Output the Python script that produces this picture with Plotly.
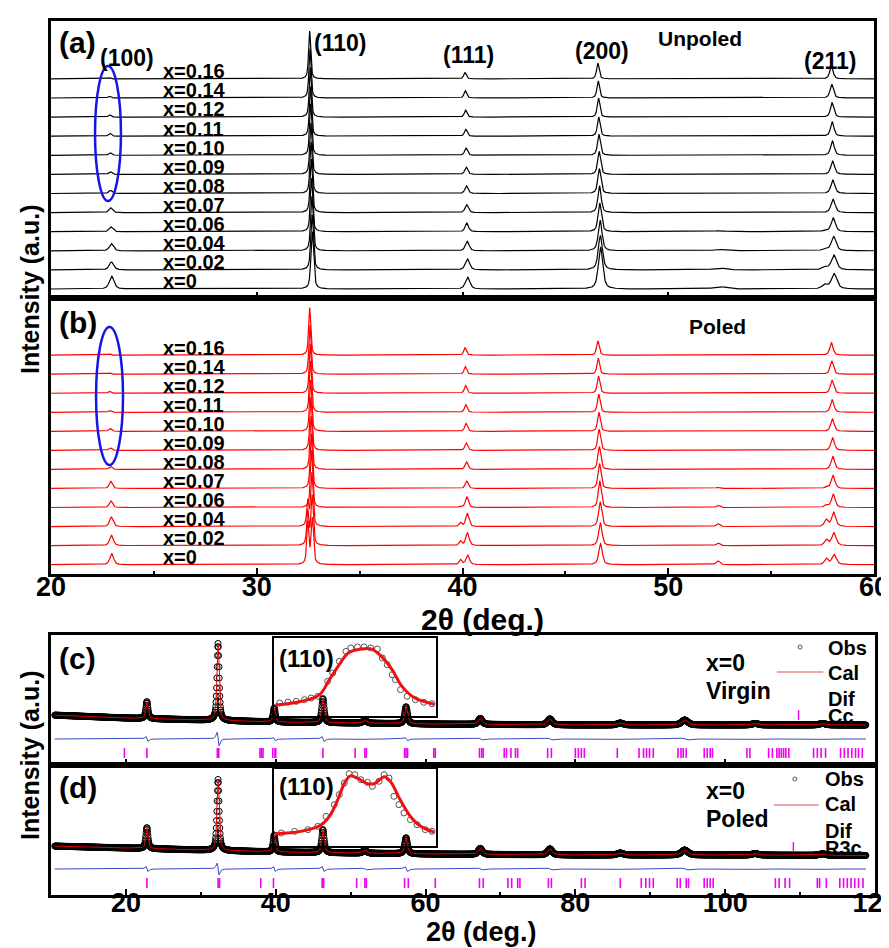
import numpy as np
import plotly.graph_objects as go

# ---------------- DATA ----------------
comps = ["0", "0.02", "0.04", "0.06", "0.07", "0.08", "0.09", "0.10", "0.11", "0.12", "0.14", "0.16"]

# top panels: reflections (positions for x=0.16) and shift toward x=0
hkl = ["(100)", "(110)", "(111)", "(200)", "(211)"]
hkl_pos = [22.82, 32.57, 40.12, 46.58, 57.93]
hkl_fwhm = [0.16, 0.12, 0.15, 0.15, 0.19]
pos_shift = [0.13, 0.12, 0.11, 0.09, 0.08, 0.07, 0.06, 0.05, 0.04, 0.03, 0.015, 0.0]
width_scale = [1.7, 1.6, 1.45, 1.3, 1.25, 1.2, 1.15, 1.1, 1.05, 1.0, 1.0, 1.0]

# unpoled peak heights (units of curve spacing), index = composition
un_h100 = [0.67, 0.42, 0.38, 0.25, 0.25, 0.16, 0.14, 0.14, 0.16, 0.12, 0.10, 0.07]
un_h110 = [3.0, 2.9, 2.85, 2.8, 2.8, 2.7, 2.7, 2.7, 2.6, 2.6, 2.6, 2.5]
un_h111 = [0.62, 0.58, 0.5, 0.45, 0.42, 0.4, 0.38, 0.38, 0.36, 0.36, 0.38, 0.33]
un_h200 = [2.2, 1.8, 1.6, 1.5, 1.4, 1.3, 1.2, 1.1, 1.0, 1.0, 0.9, 0.82]
un_h211 = [0.8, 0.78, 0.75, 0.72, 0.7, 0.7, 0.7, 0.75, 0.75, 0.75, 0.72, 0.68]
un_hump_pos = 52.5
un_hump_h = [0.12, 0.1, 0.07, 0.05, 0, 0, 0, 0, 0, 0, 0, 0]
un_sh211_pos = 57.6
un_sh211_h = [0.22, 0.14, 0.08, 0.04, 0, 0, 0, 0, 0, 0, 0, 0]

# poled peak heights
po_h100 = [0.58, 0.54, 0.5, 0.35, 0.38, 0.16, 0.14, 0.16, 0.10, 0.10, 0.07, 0.07]
po_h110 = [2.4, 2.6, 2.8, 3.0, 2.9, 2.8, 2.8, 2.7, 2.7, 2.6, 2.6, 2.5]
po_h111 = [0.5, 0.67, 0.68, 0.56, 0.39, 0.4, 0.4, 0.42, 0.4, 0.4, 0.4, 0.39]
po_h200 = [1.1, 1.2, 1.3, 1.4, 1.3, 1.2, 1.1, 1.0, 0.95, 0.9, 0.85, 0.75]
po_h211 = [0.53, 0.67, 0.74, 0.7, 0.68, 0.68, 0.66, 0.66, 0.66, 0.68, 0.7, 0.65]
# poled split / extra reflections
po_extra_pos = [32.48, 39.9, 52.42, 57.68]
po_ex110 = [2.2, 1.8, 1.3, 0, 0, 0, 0, 0, 0, 0, 0, 0]
po_ex111 = [0.26, 0.23, 0.2, 0.05, 0, 0, 0, 0, 0, 0, 0, 0]
po_ex524 = [0.2, 0.14, 0.16, 0.12, 0.06, 0, 0, 0, 0, 0, 0, 0]
po_ex576 = [0.32, 0.31, 0.35, 0.12, 0.06, 0, 0, 0, 0, 0, 0, 0]

# bottom panels (Rietveld, x=0)
rv_pos = [22.8, 32.3, 39.8, 46.3, 51.9, 57.4, 67.3, 76.6, 86.0, 94.6, 104.0, 113.0]
rv_fwhm = [0.35, 0.35, 0.35, 0.4, 0.6, 0.45, 0.6, 0.7, 0.9, 1.0, 1.0, 1.0]
virgin_h = [17, 77, 14, 24, 3, 17, 6, 6, 2, 5, 1.5, 1.5]
poled_h = [21, 71, 17, 23, 3, 16, 6, 6, 2, 5, 1.5, 1.5]
bg_x = [10, 20, 30, 40, 60, 80, 100, 120]
virgin_bg = [50, 47, 45, 43, 41, 40, 40, 40]
poled_bg = [49, 47, 45, 43, 41, 40, 40, 39.5]
virgin_dif = [3, 8, 2, 3, 0.5, 2, 1, 1, 0.5, 1, 0.5, 0.5]
poled_dif = [3, 7, 3, 3, 1, 3, 1, 1, 0.5, 1, 0.5, 0.5]
dif_level = 26
tick_level = 12

cc_ticks = [19.8, 22.8, 32.2, 32.4, 37.9, 38.1, 38.3, 39.6, 39.9, 40.0, 46.3, 50.6, 51.9, 52.1,
            57.2, 57.4, 57.6, 61.1, 61.3, 67.2, 67.5, 67.7, 70.5, 70.8, 71.4, 72.0, 72.3, 76.3, 76.8,
            80.0, 80.4, 80.8, 81.2, 85.6, 88.5, 89.1, 89.5, 89.9, 90.4, 93.7, 94.1, 94.4, 94.8,
            97.2, 97.6, 98.0, 98.3, 102.9, 103.3, 105.8, 106.3, 106.9, 107.2, 107.5, 107.8, 108.1,
            108.5, 111.8, 112.3, 112.8, 113.4, 115.4, 115.9, 116.4, 116.9, 117.4, 117.8, 118.3]
r3c_ticks = [22.8, 32.3, 32.5, 38.0, 39.7, 46.2, 46.4, 50.8, 51.9, 52.1, 57.2, 57.7, 61.3, 67.2,
             67.7, 71.0, 71.5, 72.3, 72.6, 76.4, 76.8, 80.8, 81.3, 86.0, 88.8, 89.4, 89.9, 90.4,
             93.6, 94.0, 94.8, 95.1, 97.2, 97.6, 98.0, 98.4, 106.7, 107.2, 108.0, 108.6, 112.3,
             112.6, 113.5, 115.3, 115.8, 116.3, 116.8, 117.3, 117.8, 118.4]

# insets: (110) profile
inset_c_x = [31.81, 31.97, 32.08, 32.14, 32.20, 32.26, 32.34, 32.40, 32.46, 32.53, 32.59, 32.67, 32.79]
inset_c_cal = [0.14, 0.19, 0.27, 0.46, 0.65, 0.81, 0.86, 0.86, 0.77, 0.59, 0.38, 0.23, 0.15]
inset_c_obs_x = [31.835, 31.886, 31.937, 31.988, 32.029, 32.07, 32.131, 32.162, 32.203, 32.244, 32.274,
                 32.315, 32.356, 32.397, 32.438, 32.469, 32.499, 32.53, 32.55, 32.581, 32.622, 32.673,
                 32.725, 32.775]
inset_c_obs = [0.167, 0.179, 0.188, 0.209, 0.231, 0.252, 0.444, 0.551, 0.701, 0.829, 0.872, 0.885, 0.885,
               0.872, 0.859, 0.744, 0.658, 0.53, 0.466, 0.338, 0.252, 0.209, 0.175, 0.158]
inset_d_x = [31.806, 31.966, 32.088, 32.144, 32.193, 32.236, 32.272, 32.315, 32.377, 32.42, 32.481,
             32.518, 32.579, 32.64, 32.702, 32.788]
inset_d_cal = [0.16, 0.19, 0.27, 0.39, 0.6, 0.82, 0.91, 0.88, 0.81, 0.81, 0.9, 0.84, 0.6, 0.39, 0.26, 0.18]
inset_d_obs_x = [31.845, 31.927, 32.009, 32.07, 32.121, 32.172, 32.203, 32.234, 32.264, 32.299, 32.336,
                 32.377, 32.407, 32.448, 32.479, 32.51, 32.54, 32.571, 32.602, 32.642, 32.683, 32.734,
                 32.775]
inset_d_obs = [0.169, 0.19, 0.212, 0.255, 0.385, 0.537, 0.667, 0.818, 0.939, 0.926, 0.861, 0.827, 0.775,
               0.84, 0.926, 0.883, 0.645, 0.537, 0.429, 0.342, 0.277, 0.212, 0.19]

# ---------------- HELPERS ----------------
def pv(x, x0, h, w, eta=0.6):
    u = (x - x0) / w
    return h * (eta / (1 + 4 * u * u) + (1 - eta) * np.exp(-4 * np.log(2) * u * u))

def dpv(x, x0, a, w):
    u = (x - x0) / w
    return a * (-2.6 * u / (1 + u * u) ** 2)

FONT = "Liberation Sans, Arial, sans-serif"
BOLD = dict(family=FONT, color="black", weight="bold")

fig = go.Figure()

# ---------------- TOP PANELS ----------------
xt = np.arange(20.0, 60.0001, 0.01)
un_heights = [un_h100, un_h110, un_h111, un_h200, un_h211]
po_heights = [po_h100, po_h110, po_h111, po_h200, po_h211]
po_extra = [po_ex110, po_ex111, po_ex524, po_ex576]
po_extra_w = [0.12, 0.15, 0.2, 0.2]

for i in range(len(comps)):
    ya = np.full_like(xt, float(i))
    yb = np.full_like(xt, float(i))
    for k in range(len(hkl)):
        p = hkl_pos[k] + pos_shift[i]
        ws = width_scale[i] if k != 1 else 1 + (width_scale[i] - 1) * 0.4
        ya += pv(xt, p, un_heights[k][i], hkl_fwhm[k] * ws)
        yb += pv(xt, p, po_heights[k][i], hkl_fwhm[k] * (1 + (ws - 1) * 0.5))
    ya += pv(xt, un_hump_pos, un_hump_h[i], 0.7)
    ya += pv(xt, un_sh211_pos, un_sh211_h[i], 0.3)
    for k in range(len(po_extra_pos)):
        yb += pv(xt, po_extra_pos[k], po_extra[k][i], po_extra_w[k])
    fig.add_trace(go.Scatter(x=xt, y=ya, mode="lines", line=dict(color="black", width=1.2),
                             xaxis="x", yaxis="y", showlegend=False, hoverinfo="skip"))
    fig.add_trace(go.Scatter(x=xt, y=yb, mode="lines", line=dict(color="#ff0000", width=1.2),
                             xaxis="x2", yaxis="y2", showlegend=False, hoverinfo="skip"))

# ---------------- BOTTOM PANELS ----------------
def rietveld(xx, heights, bg):
    y = np.interp(xx, bg_x, bg)
    for k in range(len(rv_pos)):
        y = y + pv(xx, rv_pos[k], heights[k], rv_fwhm[k])
    return y

def difcurve(xx, amps):
    y = np.full_like(xx, float(dif_level))
    for k in range(len(rv_pos)):
        y = y + dpv(xx, rv_pos[k], amps[k], rv_fwhm[k] * 0.6)
    return y

xo = np.arange(10.5, 118.8, 0.04)
xc = np.arange(10.5, 118.8, 0.01)
panels = [("x3", "y3", virgin_h, virgin_bg, virgin_dif, cc_ticks),
          ("x4", "y4", poled_h, poled_bg, poled_dif, r3c_ticks)]
for xa, yax, hh, bg, dif, ticks in panels:
    fig.add_trace(go.Scatter(x=xo, y=rietveld(xo, hh, bg), mode="markers",
                             marker=dict(symbol="circle-open", size=6, color="black",
                                         line=dict(width=1, color="black")),
                             xaxis=xa, yaxis=yax, showlegend=False, hoverinfo="skip"))
    fig.add_trace(go.Scatter(x=xc, y=rietveld(xc, hh, bg), mode="lines",
                             line=dict(color="#e00000", width=1),
                             xaxis=xa, yaxis=yax, showlegend=False, hoverinfo="skip"))
    fig.add_trace(go.Scatter(x=xc, y=difcurve(xc, dif), mode="lines",
                             line=dict(color="#2233bb", width=0.9),
                             xaxis=xa, yaxis=yax, showlegend=False, hoverinfo="skip"))
    fig.add_trace(go.Scatter(x=ticks, y=[tick_level] * len(ticks), mode="markers",
                             marker=dict(symbol="line-ns", size=7,
                                         line=dict(width=1.6, color="#f000f0")),
                             xaxis=xa, yaxis=yax, showlegend=False, hoverinfo="skip"))

# legend glyphs
leg = [("x3", "y3", 110.0, 118, 93, 50, 106.9, 113.1),
       ("x4", "y4", 109.3, 116, 90, 48, 106.5, 112.5)]
for xa, yax, cx, oy, ly, ty, lx0, lx1 in leg:
    fig.add_trace(go.Scatter(x=[cx], y=[oy], mode="markers",
                             marker=dict(symbol="circle-open", size=4, color="#555",
                                         line=dict(width=1, color="#555")),
                             xaxis=xa, yaxis=yax, showlegend=False, hoverinfo="skip"))
    fig.add_trace(go.Scatter(x=[lx0, lx1], y=[ly, ly], mode="lines",
                             line=dict(color="#e05050", width=1.2),
                             xaxis=xa, yaxis=yax, showlegend=False, hoverinfo="skip"))
    fig.add_trace(go.Scatter(x=[cx - 0.2], y=[ty], mode="markers",
                             marker=dict(symbol="line-ns", size=7, line=dict(width=1.4, color="#f000f0")),
                             xaxis=xa, yaxis=yax, showlegend=False, hoverinfo="skip"))

# insets
for xa, yax, ix, ical, iox, io in [("x5", "y5", inset_c_x, inset_c_cal, inset_c_obs_x, inset_c_obs),
                                    ("x6", "y6", inset_d_x, inset_d_cal, inset_d_obs_x, inset_d_obs)]:
    fig.add_trace(go.Scatter(x=iox, y=io, mode="markers",
                             marker=dict(symbol="circle-open", size=6, color="#555",
                                         line=dict(width=1, color="#555")),
                             xaxis=xa, yaxis=yax, showlegend=False, hoverinfo="skip"))
    fig.add_trace(go.Scatter(x=ix, y=ical, mode="lines", line=dict(color="#ee1111", width=3, shape="spline"),
                             xaxis=xa, yaxis=yax, showlegend=False, hoverinfo="skip"))

# ---------------- AXES ----------------
W, H = 889, 948
def px(v):
    return v / W
def py(v):
    return 1 - v / H

frame = dict(showline=True, linewidth=2.5, linecolor="black", mirror=True, showgrid=False,
             zeroline=False, automargin=False)
tickfont = dict(family=FONT, size=27, color="black", weight="bold")

top_x = dict(frame, range=[20, 60], ticks="inside", ticklen=6, tickwidth=2, tickcolor="black",
             tickvals=[20, 30, 40, 50, 60], domain=[px(43), px(866)],
             minor=dict(ticks="inside", ticklen=3, tickwidth=2, tickcolor="black",
                        tickvals=[25, 35, 45, 55], showgrid=False))
bot_x = dict(frame, range=[10, 120], ticks="inside", ticklen=6, tickwidth=2, tickcolor="black",
             tickvals=[20, 40, 60, 80, 100, 120], domain=[px(43), px(867)],
             minor=dict(ticks="inside", ticklen=3, tickwidth=2, tickcolor="black",
                        tickvals=[30, 50, 70, 90, 110], showgrid=False))
noy = dict(frame, ticks="", showticklabels=False)

fig.update_layout(
    width=W, height=H, margin=dict(l=0, r=0, t=0, b=0),
    template="none", paper_bgcolor="white", plot_bgcolor="rgba(0,0,0,0)",
    showlegend=False,
    xaxis=dict(top_x, anchor="y", showticklabels=False),
    yaxis=dict(noy, anchor="x", range=[-0.47, 14.03], domain=[py(290), py(13)]),
    xaxis2=dict(top_x, anchor="y2", showticklabels=True, tickfont=tickfont, ticklabelstandoff=-13,
                ticklabeloverflow="allow"),
    yaxis2=dict(noy, anchor="x2", range=[-0.49, 14.0], domain=[py(566), py(290)]),
    xaxis3=dict(bot_x, anchor="y3", showticklabels=False),
    yaxis3=dict(noy, anchor="x3", range=[0, 130], domain=[py(757), py(627)]),
    xaxis4=dict(bot_x, anchor="y4", showticklabels=True, tickfont=tickfont, ticklabelstandoff=-18,
                ticklabeloverflow="allow"),
    yaxis4=dict(noy, anchor="x4", range=[0, 130], domain=[py(887), py(757)]),
    xaxis5=dict(frame, linewidth=1.5, anchor="y5", range=[31.8, 32.8], showticklabels=False, ticks="",
                domain=[px(266), px(428)]),
    yaxis5=dict(frame, linewidth=1.5, anchor="x5", range=[0, 1], showticklabels=False, ticks="",
                domain=[py(708), py(630)]),
    xaxis6=dict(frame, linewidth=1.5, anchor="y6", range=[31.8, 32.8], showticklabels=False, ticks="",
                domain=[px(266), px(428)]),
    yaxis6=dict(frame, linewidth=1.5, anchor="x6", range=[0, 1], showticklabels=False, ticks="",
                domain=[py(838), py(761)]),
)

# ---------------- ANNOTATIONS ----------------
ann = []
def txt(x, y, s, size, xref, yref, xanchor="center", yanchor="middle", angle=0):
    ann.append(dict(x=x, y=y, text=s, xref=xref, yref=yref, showarrow=False, xanchor=xanchor,
                    yanchor=yanchor, textangle=angle, font=dict(BOLD, size=size)))

txt(21.31, 12.93, "(a)", 30, "x", "y")
txt(21.31, 12.69, "(b)", 30, "x2", "y2")
hkl_lab_xy = [(23.69, 12.09), (34.05, 12.88), (40.31, 12.25), (46.77, 12.46), (57.85, 11.94)]
for k in range(len(hkl)):
    txt(hkl_lab_xy[k][0], hkl_lab_xy[k][1], hkl[k], 23, "x", "y")
txt(51.54, 13.09, "Unpoled", 21, "x", "y")
txt(52.41, 12.48, "Poled", 21, "x2", "y2")
for i in range(len(comps)):
    txt(25.35, i + 0.4, "x=" + comps[i], 20, "x", "y", xanchor="left")
    txt(25.35, i + 0.4, "x=" + comps[i], 20, "x2", "y2", xanchor="left")

txt(13.6, 107, "(c)", 30, "x3", "y3")
txt(13.6, 108, "(d)", 30, "x4", "y4")
txt(32.0, 0.74, "(110)", 24, "x5", "y5")
txt(32.0, 0.77, "(110)", 24, "x6", "y6")
txt(97.2, 102.5, "x=0", 23, "x3", "y3", xanchor="left")
txt(97.2, 74, "Virgin", 23, "x3", "y3", xanchor="left")
txt(97.2, 104.5, "x=0", 23, "x4", "y4", xanchor="left")
txt(97.2, 76, "Poled", 23, "x4", "y4", xanchor="left")
for s, y in [("Obs", 117.5), ("Cal", 92.5), ("Dif", 66.5), ("Cc", 49.5)]:
    txt(113.5, y, s, 20, "x3", "y3", xanchor="left")
for s, y in [("Obs", 116.5), ("Cal", 91), ("Dif", 64.5), ("R3c", 47.5)]:
    txt(113.0, y, s, 20, "x4", "y4", xanchor="left")

txt(px(22), py(282), "Intensity (a.u.)", 25, "paper", "paper", angle=-90)
txt(px(22), py(748), "Intensity (a.u.)", 25, "paper", "paper", angle=-90)
txt(px(474), py(611), "2θ (deg.)", 30, "paper", "paper")
txt(px(473), py(924), "2θ (deg.)", 27, "paper", "paper")
fig.update_layout(annotations=ann)

# blue ellipses around the (100) reflections
fig.update_layout(shapes=[
    dict(type="circle", xref="x", yref="y", x0=22.14, x1=23.40, y0=4.61, y1=11.68,
         line=dict(color="#1515e6", width=2.5)),
    dict(type="circle", xref="x2", yref="y2", x0=22.19, x1=23.50, y0=5.23, y1=12.48,
         line=dict(color="#1515e6", width=2.5)),
])

fig.write_html("out.html")
